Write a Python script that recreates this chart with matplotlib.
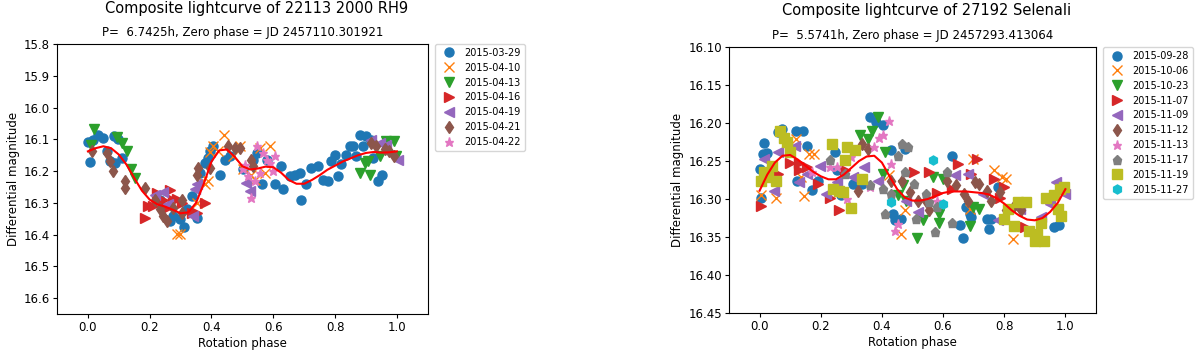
import matplotlib
matplotlib.use("Agg")
import matplotlib.pyplot as plt

# ---------------- left: 22113 2000 RH9 ----------------
rh9_dates = ['2015-03-29', '2015-04-10', '2015-04-13', '2015-04-16',
             '2015-04-19', '2015-04-21', '2015-04-22']
rh9_markers = ['o', 'x', 'v', '>', '<', 'd', '*']

rh9_phase = [
    [0.0, 0.008, 0.018, 0.034, 0.05, 0.061, 0.072, 0.088, 0.085, 0.099, 0.11,
     0.234, 0.266, 0.277, 0.298, 0.312, 0.336, 0.352, 0.32,
     0.363, 0.379, 0.39, 0.395, 0.406, 0.427, 0.443, 0.46,
     0.503, 0.535, 0.546, 0.562, 0.578, 0.626, 0.605, 0.633,
     0.653, 0.67, 0.686, 0.691, 0.707, 0.723, 0.745, 0.761, 0.777, 0.788,
     0.799, 0.809, 0.82, 0.836, 0.847, 0.858, 0.869, 0.882, 0.899, 0.89,
     0.922, 0.939, 0.953, 0.917],
    [0.287, 0.298, 0.352, 0.368, 0.39, 0.379, 0.395, 0.406, 0.422, 0.44,
     0.47, 0.492, 0.503, 0.529, 0.54, 0.557, 0.589, 0.573],
    [0.02, 0.01, 0.094, 0.11, 0.126, 0.14, 0.153, 0.879, 0.896, 0.912,
     0.944, 0.966, 0.992, 0.998, 0.906],
    [0.185, 0.196, 0.212, 0.223, 0.244, 0.266, 0.277, 0.287, 0.255, 0.352,
     0.379, 0.336, 0.304],
    [0.217, 0.244, 0.26, 0.341, 0.347, 0.352, 0.513, 0.524, 0.917, 0.944,
     0.966, 1.003],
    [0.013, 0.061, 0.072, 0.08, 0.12, 0.12, 0.185, 0.217, 0.234, 0.244,
     0.255, 0.277, 0.304, 0.304, 0.352, 0.357, 0.395, 0.455, 0.476, 0.492,
     0.529, 0.535, 0.917, 0.933, 0.96, 0.992, 0.976],
    [0.508, 0.519, 0.529, 0.54, 0.546, 0.567, 0.578, 0.6, 0.605, 0.589,
     0.503, 0.557],
]
rh9_mag = [
    [16.109, 16.171, 16.101, 16.085, 16.096, 16.138, 16.169, 16.174, 16.09,
     16.1, 16.158,
     16.29, 16.358, 16.342, 16.352, 16.376, 16.279, 16.347, 16.321,
     16.206, 16.174, 16.158, 16.137, 16.12, 16.211, 16.164, 16.153,
     16.195, 16.164, 16.143, 16.242, 16.164, 16.185, 16.242, 16.258,
     16.216, 16.211, 16.206, 16.29, 16.242, 16.19, 16.185, 16.227, 16.232,
     16.169, 16.148, 16.216, 16.179, 16.148, 16.122, 16.122, 16.153, 16.088,
     16.09, 16.122, 16.158, 16.232, 16.211, 16.101],
    [16.398, 16.398, 16.3, 16.232, 16.232, 16.242, 16.141, 16.122, 16.138,
     16.085, 16.153, 16.122, 16.195, 16.211, 16.227, 16.127, 16.122, 16.206],
    [16.069, 16.117, 16.093, 16.111, 16.138, 16.193, 16.221, 16.206, 16.174,
     16.211, 16.153, 16.106, 16.106, 16.153, 16.169],
    [16.347, 16.311, 16.311, 16.269, 16.29, 16.26, 16.29, 16.288, 16.316,
     16.331, 16.302, 16.331, 16.3],
    [16.274, 16.266, 16.305, 16.342, 16.258, 16.242, 16.237, 16.263, 16.101,
     16.111, 16.117, 16.164],
    [16.138, 16.143, 16.169, 16.2, 16.232, 16.253, 16.253, 16.29, 16.321,
     16.342, 16.358, 16.316, 16.29, 16.331, 16.211, 16.19, 16.19, 16.122,
     16.127, 16.127, 16.164, 16.185, 16.111, 16.122, 16.132, 16.153, 16.138],
    [16.18, 16.216, 16.284, 16.232, 16.122, 16.143, 16.164, 16.2, 16.153,
     16.174, 16.195, 16.206],
]

rh9_fit_phase = [i / 40 for i in range(41)]
rh9_fit_mag = [16.138, 16.128, 16.122, 16.128, 16.148, 16.180, 16.222, 16.262,
               16.290, 16.305, 16.312, 16.322, 16.333, 16.330, 16.300, 16.240,
               16.170, 16.135, 16.132, 16.155, 16.185, 16.195, 16.192, 16.186,
               16.188, 16.205, 16.228, 16.240, 16.240, 16.228, 16.213, 16.196,
               16.183, 16.170, 16.160, 16.150, 16.143, 16.140, 16.142, 16.141,
               16.138]

# ---------------- right: 27192 Selenali ----------------
sel_dates = ['2015-09-28', '2015-10-06', '2015-10-23', '2015-11-07',
             '2015-11-09', '2015-11-12', '2015-11-13', '2015-11-17',
             '2015-11-19', '2015-11-27']
sel_markers = ['o', 'x', 'v', '>', '<', 'd', '*', 'p', 's', 'h']

sel_phase = [
    [0.0, 0.004, 0.01, 0.014, 0.023, 0.06, 0.073, 0.119, 0.142, 0.154, 0.123,
     0.173, 0.192, 0.248, 0.254, 0.267, 0.305, 0.336, 0.361, 0.38, 0.402,
     0.43, 0.436, 0.442, 0.461, 0.474, 0.628, 0.655, 0.665, 0.674, 0.687,
     0.693, 0.743, 0.749, 0.756, 0.962, 0.979, 0.781],
    [0.004, 0.054, 0.119, 0.145, 0.16, 0.177, 0.135, 0.424, 0.461, 0.477,
     0.699, 0.768, 0.793, 0.806, 0.828, 0.687],
    [0.386, 0.367, 0.33, 0.355, 0.411, 0.405, 0.454, 0.469, 0.48, 0.515,
     0.536, 0.568, 0.587, 0.587, 0.599, 0.687, 0.717, 0.699],
    [0.004, 0.029, 0.06, 0.098, 0.129, 0.129, 0.154, 0.192, 0.229, 0.261,
     0.28, 0.505, 0.555, 0.581, 0.649, 0.63, 0.712, 0.693, 0.768, 0.8,
     0.787, 0.856, 0.868],
    [0.016, 0.048, 0.06, 0.117, 0.129, 0.154, 0.198, 0.217, 0.254, 0.305,
     0.342, 0.386, 0.48, 0.517, 0.638, 0.68, 0.731, 0.781, 0.85, 0.919,
     0.95, 0.969, 1.0],
    [0.323, 0.336, 0.355, 0.43, 0.467, 0.492, 0.518, 0.543, 0.555, 0.612,
     0.643, 0.668, 0.68, 0.705, 0.717, 0.743, 0.756, 0.787, 0.806, 0.831,
     0.856],
    [0.173, 0.229, 0.254, 0.286, 0.298, 0.361, 0.373, 0.392, 0.404, 0.423,
     0.442, 0.454, 0.43, 0.58],
    [0.229, 0.28, 0.361, 0.405, 0.411, 0.43, 0.454, 0.467, 0.486, 0.474,
     0.505, 0.511, 0.543, 0.555, 0.574, 0.612, 0.628, 0.58],
    [0.004, 0.016, 0.029, 0.041, 0.054, 0.066, 0.079, 0.091, 0.098, 0.236,
     0.241, 0.261, 0.274, 0.298, 0.286, 0.311, 0.28, 0.336, 0.8, 0.812,
     0.831, 0.845, 0.87, 0.881, 0.9, 0.906, 0.931, 0.919, 0.937, 0.962,
     0.981, 0.994, 0.987, 0.975],
    [0.568, 0.43, 0.599],
]
sel_mag = [
    [16.26, 16.299, 16.241, 16.226, 16.24, 16.212, 16.208, 16.21, 16.21,
     16.23, 16.276, 16.288, 16.276, 16.238, 16.262, 16.295, 16.28, 16.28,
     16.192, 16.199, 16.202, 16.236, 16.32, 16.328, 16.326, 16.234, 16.243,
     16.334, 16.351, 16.311, 16.32, 16.323, 16.326, 16.339, 16.326, 16.337,
     16.334, 16.284],
    [16.295, 16.298, 16.221, 16.296, 16.241, 16.241, 16.271, 16.269, 16.346,
     16.315, 16.247, 16.262, 16.271, 16.273, 16.353, 16.313],
    [16.192, 16.21, 16.216, 16.221, 16.238, 16.267, 16.295, 16.282, 16.302,
     16.351, 16.328, 16.271, 16.331, 16.32, 16.273, 16.335, 16.313, 16.311],
    [16.309, 16.269, 16.267, 16.252, 16.252, 16.262, 16.258, 16.28, 16.298,
     16.315, 16.262, 16.265, 16.265, 16.292, 16.254, 16.287, 16.247, 16.267,
     16.273, 16.284, 16.298, 16.306, 16.337],
    [16.247, 16.289, 16.238, 16.23, 16.278, 16.267, 16.256, 16.293, 16.278,
     16.271, 16.258, 16.276, 16.302, 16.317, 16.269, 16.267, 16.293, 16.328,
     16.313, 16.324, 16.306, 16.278, 16.293],
    [16.289, 16.227, 16.234, 16.276, 16.276, 16.291, 16.302, 16.302, 16.315,
     16.276, 16.282, 16.293, 16.302, 16.278, 16.28, 16.289, 16.302, 16.291,
     16.315, 16.309, 16.315],
    [16.264, 16.258, 16.258, 16.3, 16.245, 16.284, 16.232, 16.219, 16.216,
     16.197, 16.342, 16.333, 16.254, 16.302],
    [16.249, 16.267, 16.282, 16.287, 16.32, 16.293, 16.243, 16.227, 16.232,
     16.265, 16.28, 16.326, 16.293, 16.304, 16.344, 16.265, 16.331, 16.311],
    [16.276, 16.265, 16.271, 16.256, 16.276, 16.21, 16.22, 16.225, 16.238,
     16.227, 16.287, 16.289, 16.291, 16.312, 16.232, 16.236, 16.249, 16.273,
     16.326, 16.313, 16.335, 16.304, 16.304, 16.342, 16.355, 16.346, 16.355,
     16.331, 16.298, 16.295, 16.287, 16.284, 16.322, 16.313],
    [16.248, 16.304, 16.306],
]

sel_fit_phase = [i / 40 for i in range(41)]
sel_fit_mag = [16.289, 16.268, 16.252, 16.243, 16.242, 16.248, 16.256, 16.264,
               16.270, 16.274, 16.274, 16.268, 16.259, 16.250, 16.244, 16.243,
               16.252, 16.270, 16.287, 16.298, 16.302, 16.302, 16.300, 16.296,
               16.292, 16.290, 16.290, 16.290, 16.291, 16.292, 16.294, 16.299,
               16.306, 16.315, 16.322, 16.327, 16.328, 16.325, 16.317, 16.305,
               16.287]

fig = plt.figure(figsize=(12, 3.55), dpi=100)


def draw_panel(ax, dates, markers, phases, mags, fit_x, fit_y, subtitle):
    for d, m, x, y in zip(dates, markers, phases, mags):
        ax.plot(x, y, m, linestyle='none', markersize=6.5, label=d)
    ax.plot(fit_x, fit_y, color='red', linewidth=1.5)
    ax.set_xlim(-0.1, 1.1)
    ax.set_xticks([0.0, 0.2, 0.4, 0.6, 0.8, 1.0])
    ax.set_xlabel("Rotation phase", fontsize=8.5, labelpad=2)
    ax.set_ylabel("Differential magnitude", fontsize=8.5, labelpad=3)
    ax.set_title(subtitle, fontsize=8.5, pad=6)
    ax.tick_params(labelsize=8.5, length=3, pad=2)
    ax.legend(loc='upper left', bbox_to_anchor=(1.02, 1.0), borderaxespad=0,
              fontsize=7, handletextpad=0.6, borderpad=0.4, labelspacing=0.5)


ax1 = fig.add_axes([0.0475, 0.1155, 0.309, 0.7606])
draw_panel(ax1, rh9_dates, rh9_markers, rh9_phase, rh9_mag,
           rh9_fit_phase, rh9_fit_mag,
           "P=  6.7425h, Zero phase = JD 2457110.301921")
ax1.set_ylim(16.65, 15.8)
ax1.set_yticks([15.8, 15.9, 16.0, 16.1, 16.2, 16.3, 16.4, 16.5, 16.6])

ax2 = fig.add_axes([0.6075, 0.1183, 0.3058, 0.749])
draw_panel(ax2, sel_dates, sel_markers, sel_phase, sel_mag,
           sel_fit_phase, sel_fit_mag,
           "P=  5.5741h, Zero phase = JD 2457293.413064")
ax2.set_ylim(16.45, 16.10)
ax2.set_yticks([16.10, 16.15, 16.20, 16.25, 16.30, 16.35, 16.40, 16.45])
ax2.set_yticklabels(['16.10', '16.15', '16.20', '16.25', '16.30', '16.35',
                     '16.40', '16.45'])

fig.text(257 / 1200, 1 - 8 / 355, "Composite lightcurve of 22113 2000 RH9",
         ha='center', va='center', fontsize=10.5)
fig.text(927 / 1200, 1 - 11 / 355, "Composite lightcurve of 27192 Selenali",
         ha='center', va='center', fontsize=10.5)

fig.savefig("out.png", dpi=100)
